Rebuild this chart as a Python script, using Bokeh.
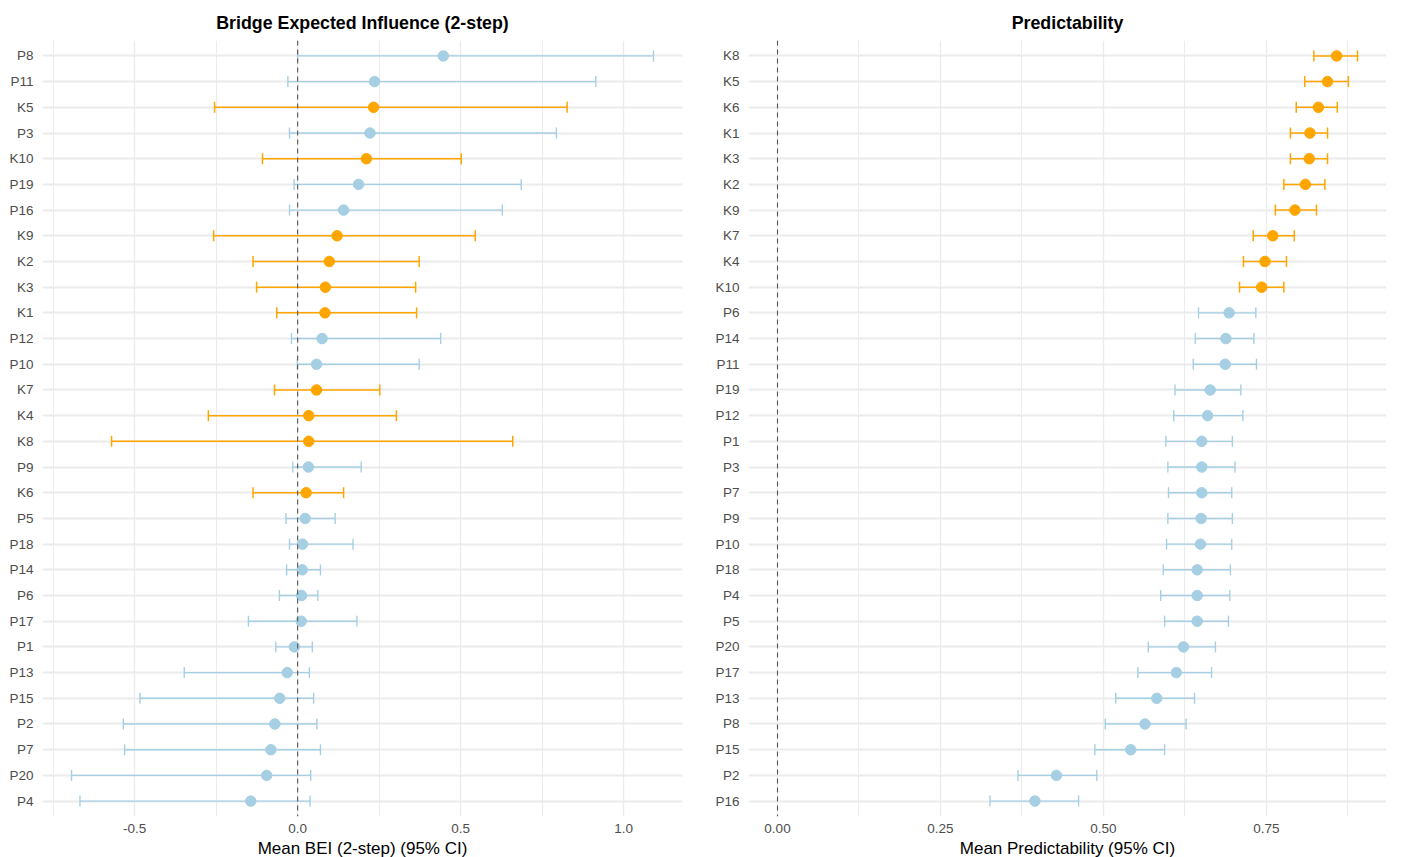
from bokeh.plotting import figure
from bokeh.models import ColumnDataSource, Whisker, TeeHead, Span, FactorRange, Range1d, FixedTicker
from bokeh.layouts import row
from bokeh.embed import file_html
from bokeh.resources import INLINE

# ---- Bridge Expected Influence (2-step) ----
bei_nodes = ["P8", "P11", "K5", "P3", "K10", "P19", "P16", "K9", "K2", "K3", "K1", "P12", "P10", "K7",
             "K4", "K8", "P9", "K6", "P5", "P18", "P14", "P6", "P17", "P1", "P13", "P15", "P2", "P7", "P20", "P4"]
bei_mean = [0.447, 0.236, 0.233, 0.222, 0.211, 0.187, 0.141, 0.121, 0.097, 0.085, 0.084, 0.075, 0.058, 0.058,
            0.034, 0.034, 0.033, 0.026, 0.023, 0.015, 0.014, 0.012, 0.011, -0.010, -0.032, -0.055, -0.070, -0.082, -0.095, -0.144]
bei_lo = [0.000, -0.030, -0.255, -0.025, -0.108, -0.011, -0.025, -0.258, -0.137, -0.126, -0.064, -0.019, -0.001, -0.071,
          -0.274, -0.571, -0.015, -0.137, -0.036, -0.025, -0.034, -0.056, -0.151, -0.067, -0.348, -0.484, -0.535, -0.531, -0.694, -0.668]
bei_hi = [1.092, 0.915, 0.827, 0.794, 0.502, 0.686, 0.628, 0.545, 0.373, 0.362, 0.365, 0.439, 0.373, 0.252,
          0.303, 0.660, 0.195, 0.141, 0.115, 0.170, 0.070, 0.062, 0.182, 0.045, 0.036, 0.049, 0.059, 0.070, 0.040, 0.038]

# ---- Predictability ----
pred_nodes = ["K8", "K5", "K6", "K1", "K3", "K2", "K9", "K7", "K4", "K10", "P6", "P14", "P11", "P19", "P12",
              "P1", "P3", "P7", "P9", "P10", "P18", "P4", "P5", "P20", "P17", "P13", "P8", "P15", "P2", "P16"]
pred_mean = [0.858, 0.844, 0.830, 0.817, 0.816, 0.810, 0.794, 0.760, 0.748, 0.743, 0.693, 0.688, 0.687, 0.664, 0.660,
             0.651, 0.651, 0.651, 0.650, 0.649, 0.644, 0.644, 0.644, 0.623, 0.612, 0.582, 0.564, 0.542, 0.428, 0.395]
pred_lo = [0.823, 0.809, 0.796, 0.787, 0.787, 0.777, 0.764, 0.730, 0.715, 0.709, 0.646, 0.641, 0.638, 0.610, 0.608,
           0.596, 0.599, 0.600, 0.599, 0.597, 0.592, 0.588, 0.594, 0.569, 0.553, 0.519, 0.503, 0.487, 0.369, 0.326]
pred_hi = [0.890, 0.876, 0.859, 0.844, 0.844, 0.840, 0.827, 0.793, 0.781, 0.777, 0.734, 0.731, 0.735, 0.711, 0.714,
           0.698, 0.702, 0.697, 0.698, 0.697, 0.695, 0.694, 0.692, 0.672, 0.666, 0.640, 0.627, 0.594, 0.490, 0.462]

bei_ticks = [-0.5, 0.0, 0.5, 1.0]
bei_minor = [-0.75, -0.25, 0.25, 0.75]
pred_ticks = [0.0, 0.25, 0.5, 0.75]
pred_minor = [0.125, 0.375, 0.625, 0.875]

ORANGE = "#FFA500"
BLUE = "#A6CFE4"
FONT = "Liberation Sans"


def panel(title, nodes, mean, lo, hi, xlabel, xr, ticks, minor, fmt, frame_w, border_left, border_right):
    factors = list(reversed(nodes))
    yr = FactorRange(factors=factors, range_padding=0.1, range_padding_units="absolute")
    p = figure(y_range=yr, x_range=Range1d(*xr), frame_width=frame_w, frame_height=776,
               output_backend="svg", toolbar_location=None, title=title,
               min_border_left=border_left, min_border_right=border_right,
               min_border_top=40, min_border_bottom=30)
    p.title.align = "center"
    p.title.text_font = FONT
    p.title.text_font_size = "17.8px"
    p.title.text_font_style = "bold"
    p.title.text_color = "#000000"
    p.title.standoff = 16
    p.outline_line_color = None
    p.background_fill_color = "white"
    p.border_fill_color = "white"

    p.xaxis.ticker = FixedTicker(ticks=ticks, minor_ticks=minor)
    p.xaxis.major_label_overrides = {t: fmt(t) for t in ticks}
    for ax in (p.xaxis[0], p.yaxis[0]):
        ax.axis_line_color = None
        ax.major_tick_line_color = None
        ax.minor_tick_line_color = None
        ax.major_tick_out = 0
        ax.major_tick_in = 0
        ax.minor_tick_out = 0
        ax.minor_tick_in = 0
        ax.major_label_text_font = FONT
        ax.major_label_text_font_size = "13.5px"
        ax.major_label_text_color = "#4D4D4D"
    p.xaxis.major_label_standoff = 7
    p.yaxis.major_label_standoff = 9
    p.xaxis.axis_label = xlabel
    p.xaxis.axis_label_text_font = FONT
    p.xaxis.axis_label_text_font_size = "17px"
    p.xaxis.axis_label_text_font_style = "normal"
    p.xaxis.axis_label_text_color = "#000000"
    p.xaxis.axis_label_standoff = 3

    p.xgrid.grid_line_color = "#EBEBEB"
    p.xgrid.grid_line_width = 1.3
    p.xgrid.minor_grid_line_color = "#EBEBEB"
    p.xgrid.minor_grid_line_width = 1.0
    p.ygrid.grid_line_color = "#EBEBEB"
    p.ygrid.grid_line_width = 2.2

    p.add_layout(Span(location=0, dimension="height", line_color="#555555",
                      line_dash="5 4", line_width=1.1))

    for grp, col, lw in (("K", ORANGE, 1.5), ("P", BLUE, 1.4)):
        idx = [i for i, n in enumerate(nodes) if n.startswith(grp)]
        src = ColumnDataSource(dict(node=[nodes[i] for i in idx], mean=[mean[i] for i in idx],
                                    lo=[lo[i] for i in idx], hi=[hi[i] for i in idx]))
        w = Whisker(source=src, base="node", lower="lo", upper="hi", dimension="width",
                    line_color=col, line_width=lw,
                    lower_head=TeeHead(size=11, line_color=col, line_width=lw),
                    upper_head=TeeHead(size=11, line_color=col, line_width=lw))
        p.add_layout(w)
        p.scatter(x="mean", y="node", source=src, size=10.5, color=col, line_color=col)
    return p


def fmt1(t):
    return f"{t:.1f}"


def fmt2(t):
    return f"{t:.2f}"


p1 = panel("Bridge Expected Influence (2-step)", bei_nodes, bei_mean, bei_lo, bei_hi,
           "Mean BEI (2-step) (95% CI)", (-0.783, 1.181), bei_ticks, bei_minor, fmt1, 640, 42, 14)
p2 = panel("Predictability", pred_nodes, pred_mean, pred_lo, pred_hi,
           "Mean Predictability (95% CI)", (-0.0445, 0.9345), pred_ticks, pred_minor, fmt2, 638, 52, 0)

layout = row(p1, p2)
open("out.html", "w").write(file_html(layout, INLINE))
